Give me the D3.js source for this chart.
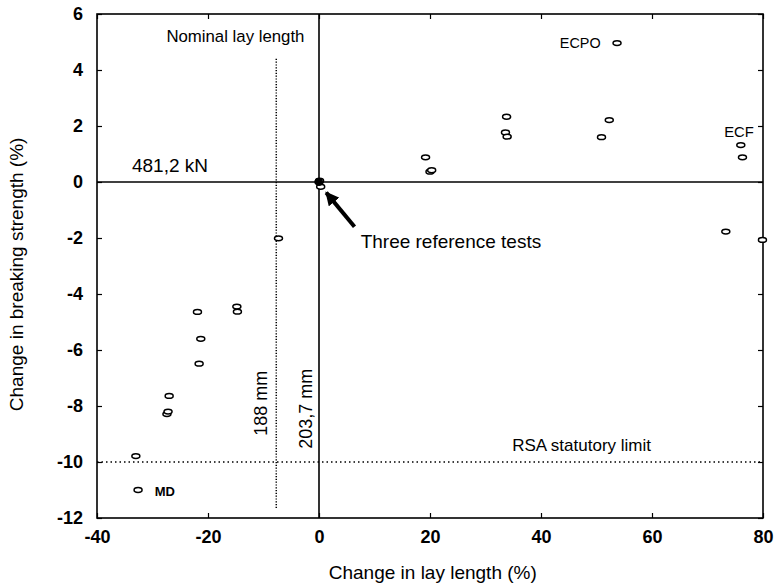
<!DOCTYPE html>
<html>
<head>
<meta charset="utf-8">
<script src="https://cdn.jsdelivr.net/npm/d3@7"></script>
<style>
  body { margin: 0; background: #fff; }
  text { font-family: "Liberation Sans", Arial, sans-serif; fill: #000; }
</style>
</head>
<body>
<svg id="chart" width="775" height="586"></svg>
<script>
// test results: change in lay length (%) vs change in breaking strength (%)
var layChange = [0, 0.1, 0.3, 19.2, 20.0, 20.3, 33.8, 33.6, 33.9, 52.3, 50.9, 53.7,
                 76.0, 76.3, 73.3, 79.9, -7.3, -21.9, -21.3, -21.6, -14.8, -14.7,
                 -27.0, -27.4, -27.2, -33.0, -32.6];
var strengthChange = [0, 0.05, -0.17, 0.88, 0.37, 0.42, 2.33, 1.77, 1.62, 2.21, 1.60, 4.96,
                      1.32, 0.88, -1.77, -2.07, -2.01, -4.64, -5.6, -6.49, -4.45, -4.63,
                      -7.64, -8.29, -8.2, -9.79, -11.0];

var xTicks = [-40, -20, 0, 20, 40, 60, 80];
var yTicks = [6, 4, 2, 0, -2, -4, -6, -8, -10, -12];

var nominalLay = -7.7;      // dotted vertical, 188 mm
var rsaLimit = -10;         // dotted horizontal

var svg = d3.select("#chart"),
    margin = {top: 14, right: 12, bottom: 68, left: 97},
    width = +svg.attr("width") - margin.left - margin.right,
    height = +svg.attr("height") - margin.top - margin.bottom;

var x = d3.scaleLinear().domain([-40, 80]).range([0, width]);
var y = d3.scaleLinear().domain([-12, 6]).range([height, 0]);

var g = svg.append("g").attr("transform", "translate(" + margin.left + "," + margin.top + ")");

// plain hyphen for negatives, like the original
var fmt = function (d) { return String(d); };

// inward ticks on all four sides
var tickIn = 5;
g.append("g")
    .attr("transform", "translate(0," + height + ")")
    .call(d3.axisBottom(x).tickValues(xTicks).tickSize(-tickIn).tickPadding(12).tickFormat(fmt))
    .call(function (a) { a.select(".domain").remove(); });
g.append("g")
    .call(d3.axisTop(x).tickValues(xTicks).tickSize(-tickIn).tickFormat(""))
    .call(function (a) { a.select(".domain").remove(); });
g.append("g")
    .call(d3.axisLeft(y).tickValues(yTicks).tickSize(-tickIn).tickPadding(14).tickFormat(fmt))
    .call(function (a) { a.select(".domain").remove(); });
g.append("g")
    .attr("transform", "translate(" + width + ",0)")
    .call(d3.axisRight(y).tickValues(yTicks).tickSize(-tickIn).tickFormat(""))
    .call(function (a) { a.select(".domain").remove(); });

g.selectAll(".tick line").attr("stroke", "#000").attr("stroke-width", 1.2);
g.selectAll(".tick text")
    .style("font-size", "18px")
    .style("font-weight", "bold")
    .style("font-family", "Liberation Sans, Arial, sans-serif");

// frame
g.append("rect")
    .attr("width", width).attr("height", height)
    .attr("fill", "none").attr("stroke", "#000").attr("stroke-width", 1.6);

// reference lines
g.append("line")
    .attr("x1", 0).attr("x2", width).attr("y1", y(0)).attr("y2", y(0))
    .attr("stroke", "#000").attr("stroke-width", 1.6);
g.append("line")
    .attr("x1", x(0)).attr("x2", x(0)).attr("y1", 0).attr("y2", height)
    .attr("stroke", "#000").attr("stroke-width", 1.6);
g.append("line")
    .attr("x1", x(nominalLay)).attr("x2", x(nominalLay)).attr("y1", y(4.4)).attr("y2", y(-11.7))
    .attr("stroke", "#000").attr("stroke-width", 1.5).attr("stroke-dasharray", "1.2,1.6");
g.append("line")
    .attr("x1", 0).attr("x2", width).attr("y1", y(rsaLimit)).attr("y2", y(rsaLimit))
    .attr("stroke", "#000").attr("stroke-width", 1.3).attr("stroke-dasharray", "1.5,3");

// points
var points = layChange.map(function (d, i) { return {x: d, y: strengthChange[i]}; });
g.append("g").selectAll("ellipse")
    .data(points)
    .enter().append("ellipse")
    .attr("cx", function (d) { return x(d.x); })
    .attr("cy", function (d) { return y(d.y); })
    .attr("rx", 4).attr("ry", 2.4)
    .attr("fill", "#fff").attr("stroke", "#000").attr("stroke-width", 1.5);

// blob where the reference tests overlap
g.append("circle")
    .attr("cx", x(0)).attr("cy", y(0)).attr("r", 4).attr("fill", "#000");

// arrow to the reference tests
svg.append("defs").append("marker")
    .attr("id", "head").attr("viewBox", "0 0 10 10")
    .attr("refX", 9).attr("refY", 5)
    .attr("markerWidth", 3.4).attr("markerHeight", 3.4)
    .attr("orient", "auto")
    .append("path").attr("d", "M0,0L10,5L0,10z").attr("fill", "#000");
g.append("line")
    .attr("x1", x(6.4)).attr("y1", y(-1.6))
    .attr("x2", x(1.3)).attr("y2", y(-0.38))
    .attr("stroke", "#000").attr("stroke-width", 4)
    .attr("marker-end", "url(#head)");

// annotations
function label(txt, px, py, size, anchor) {
    return g.append("text").attr("x", px).attr("y", py)
        .attr("text-anchor", anchor || "start")
        .style("font-size", size + "px").text(txt);
}
label("Nominal lay length", x(-27.5), y(5.0), 16.8);
label("481,2 kN", x(-33.7), y(0.35), 19);
label("ECPO", x(43.4), y(4.8), 14.4);
label("ECF", x(73.0), y(1.6), 14.8);
label("Three reference tests", x(7.5), y(-2.35), 19);
label("RSA statutory limit", x(34.8), y(-9.6), 17);
label("MD", x(-29.6), y(-11.2), 13).style("font-weight", "bold");

g.append("text")
    .attr("transform", "translate(" + (x(nominalLay) - 9) + "," + y(-7.9) + ") rotate(-90)")
    .attr("text-anchor", "middle").style("font-size", "18px").text("188 mm");
g.append("text")
    .attr("transform", "translate(" + (x(0) - 7) + "," + y(-8.1) + ") rotate(-90)")
    .attr("text-anchor", "middle").style("font-size", "18px").text("203,7 mm");

// axis titles
svg.append("text")
    .attr("x", margin.left + x(20.5)).attr("y", 579)
    .attr("text-anchor", "middle").style("font-size", "19px")
    .text("Change in lay length (%)");
svg.append("text")
    .attr("transform", "translate(23," + (margin.top + y(-3.3)) + ") rotate(-90)")
    .attr("text-anchor", "middle").style("font-size", "19px")
    .text("Change in breaking strength (%)");
</script>
</body>
</html>
